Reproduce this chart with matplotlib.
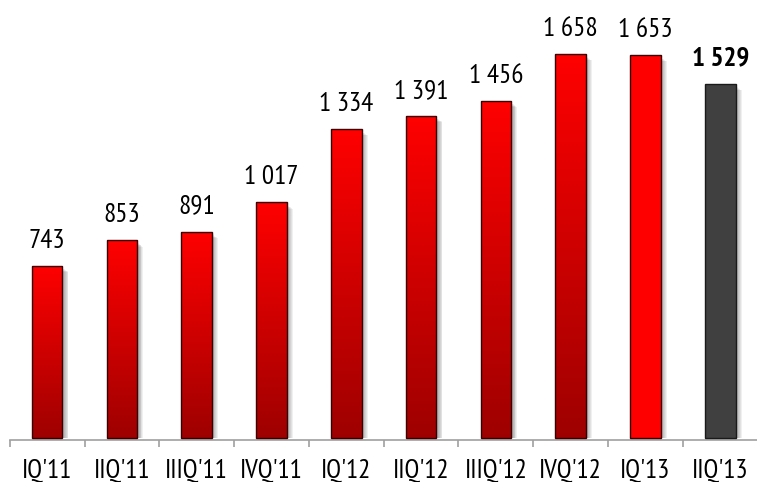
import matplotlib
matplotlib.use("Agg")
import matplotlib.pyplot as plt
import numpy as np
from matplotlib.patches import Rectangle
from matplotlib import font_manager
from matplotlib.colors import LinearSegmentedColormap

categories = ["IQ'11", "IIQ'11", "IIIQ'11", "IVQ'11", "IQ'12", "IIQ'12", "IIIQ'12", "IVQ'12", "IQ'13", "IIQ'13"]
values = [743, 853, 891, 1017, 1334, 1391, 1456, 1658, 1653, 1529]
labels = ["743", "853", "891", "1 017", "1 334", "1 391", "1 456", "1 658", "1 653", "1 529"]
styles = ["grad"] * 8 + ["solid", "gray"]

names = {f.name for f in font_manager.fontManager.ttflist}
fam = "DejaVu Sans"
for cand in ["Liberation Sans Narrow", "PT Sans Narrow", "Pragati Narrow", "Roboto Condensed", "Archivo Narrow"]:
    if cand in names:
        fam = cand
        break

ymin, ymax = -9, 1800
px_per_unit = 0.2315
fig = plt.figure(figsize=(7.57, 4.82), dpi=100)
ax = fig.add_axes([9.7 / 757, 42 / 482, 748 / 757, (ymax - ymin) * px_per_unit / 482])
n = len(values)

w = 0.41
grad = np.linspace(0, 1, 256).reshape(-1, 1)
cmap = LinearSegmentedColormap.from_list("r", ["#9e0000", "#ff0000"])

for i, (v, s) in enumerate(zip(values, styles)):
    cx = i + 0.5
    x0 = cx - w / 2
    for k in range(6):
        off = 0.02 + k * 0.012
        ax.add_patch(Rectangle((x0 + off, 0), w, v - 12 - k * 3, facecolor="black",
                               alpha=0.06, edgecolor="none", zorder=1))
    if s == "grad":
        rect = Rectangle((x0, 0), w, v, facecolor="none", edgecolor="#3a0000", lw=1.0, zorder=3)
        ax.add_patch(rect)
        im = ax.imshow(grad, cmap=cmap, aspect="auto", extent=(x0, x0 + w, 0, v),
                       origin="lower", zorder=2, interpolation="bilinear")
        im.set_clip_path(rect)
    elif s == "solid":
        ax.add_patch(Rectangle((x0, 0), w, v, facecolor="#ff0000", edgecolor="#3a0000", lw=1.0, zorder=3))
    else:
        ax.add_patch(Rectangle((x0, 0), w, v, facecolor="#404040", edgecolor="#1a1a1a", lw=1.0, zorder=3))
    ax.annotate(labels[i], (cx, v), xytext=(0, 9.5), textcoords="offset points",
                ha="center", va="bottom", fontsize=19.5, family=fam,
                fontweight="bold" if s == "gray" else "normal", color="black",
                annotation_clip=False)

ax.set_xlim(0, n)
ax.set_ylim(ymin, ymax)
for sp in ["top", "right", "left"]:
    ax.spines[sp].set_visible(False)
ax.spines["bottom"].set_color("#a0a0a0")
ax.spines["bottom"].set_linewidth(1.2)
ax.set_yticks([])
ax.set_xticks(np.arange(n) + 0.5)
ax.set_xticklabels(categories, fontsize=19.5, family=fam)
ax.tick_params(axis="x", which="major", length=0, pad=13)
ax.set_xticks(np.arange(n + 1), minor=True)
ax.tick_params(axis="x", which="minor", length=5, color="#a0a0a0", width=1.2)

fig.savefig("out.png", dpi=100)
